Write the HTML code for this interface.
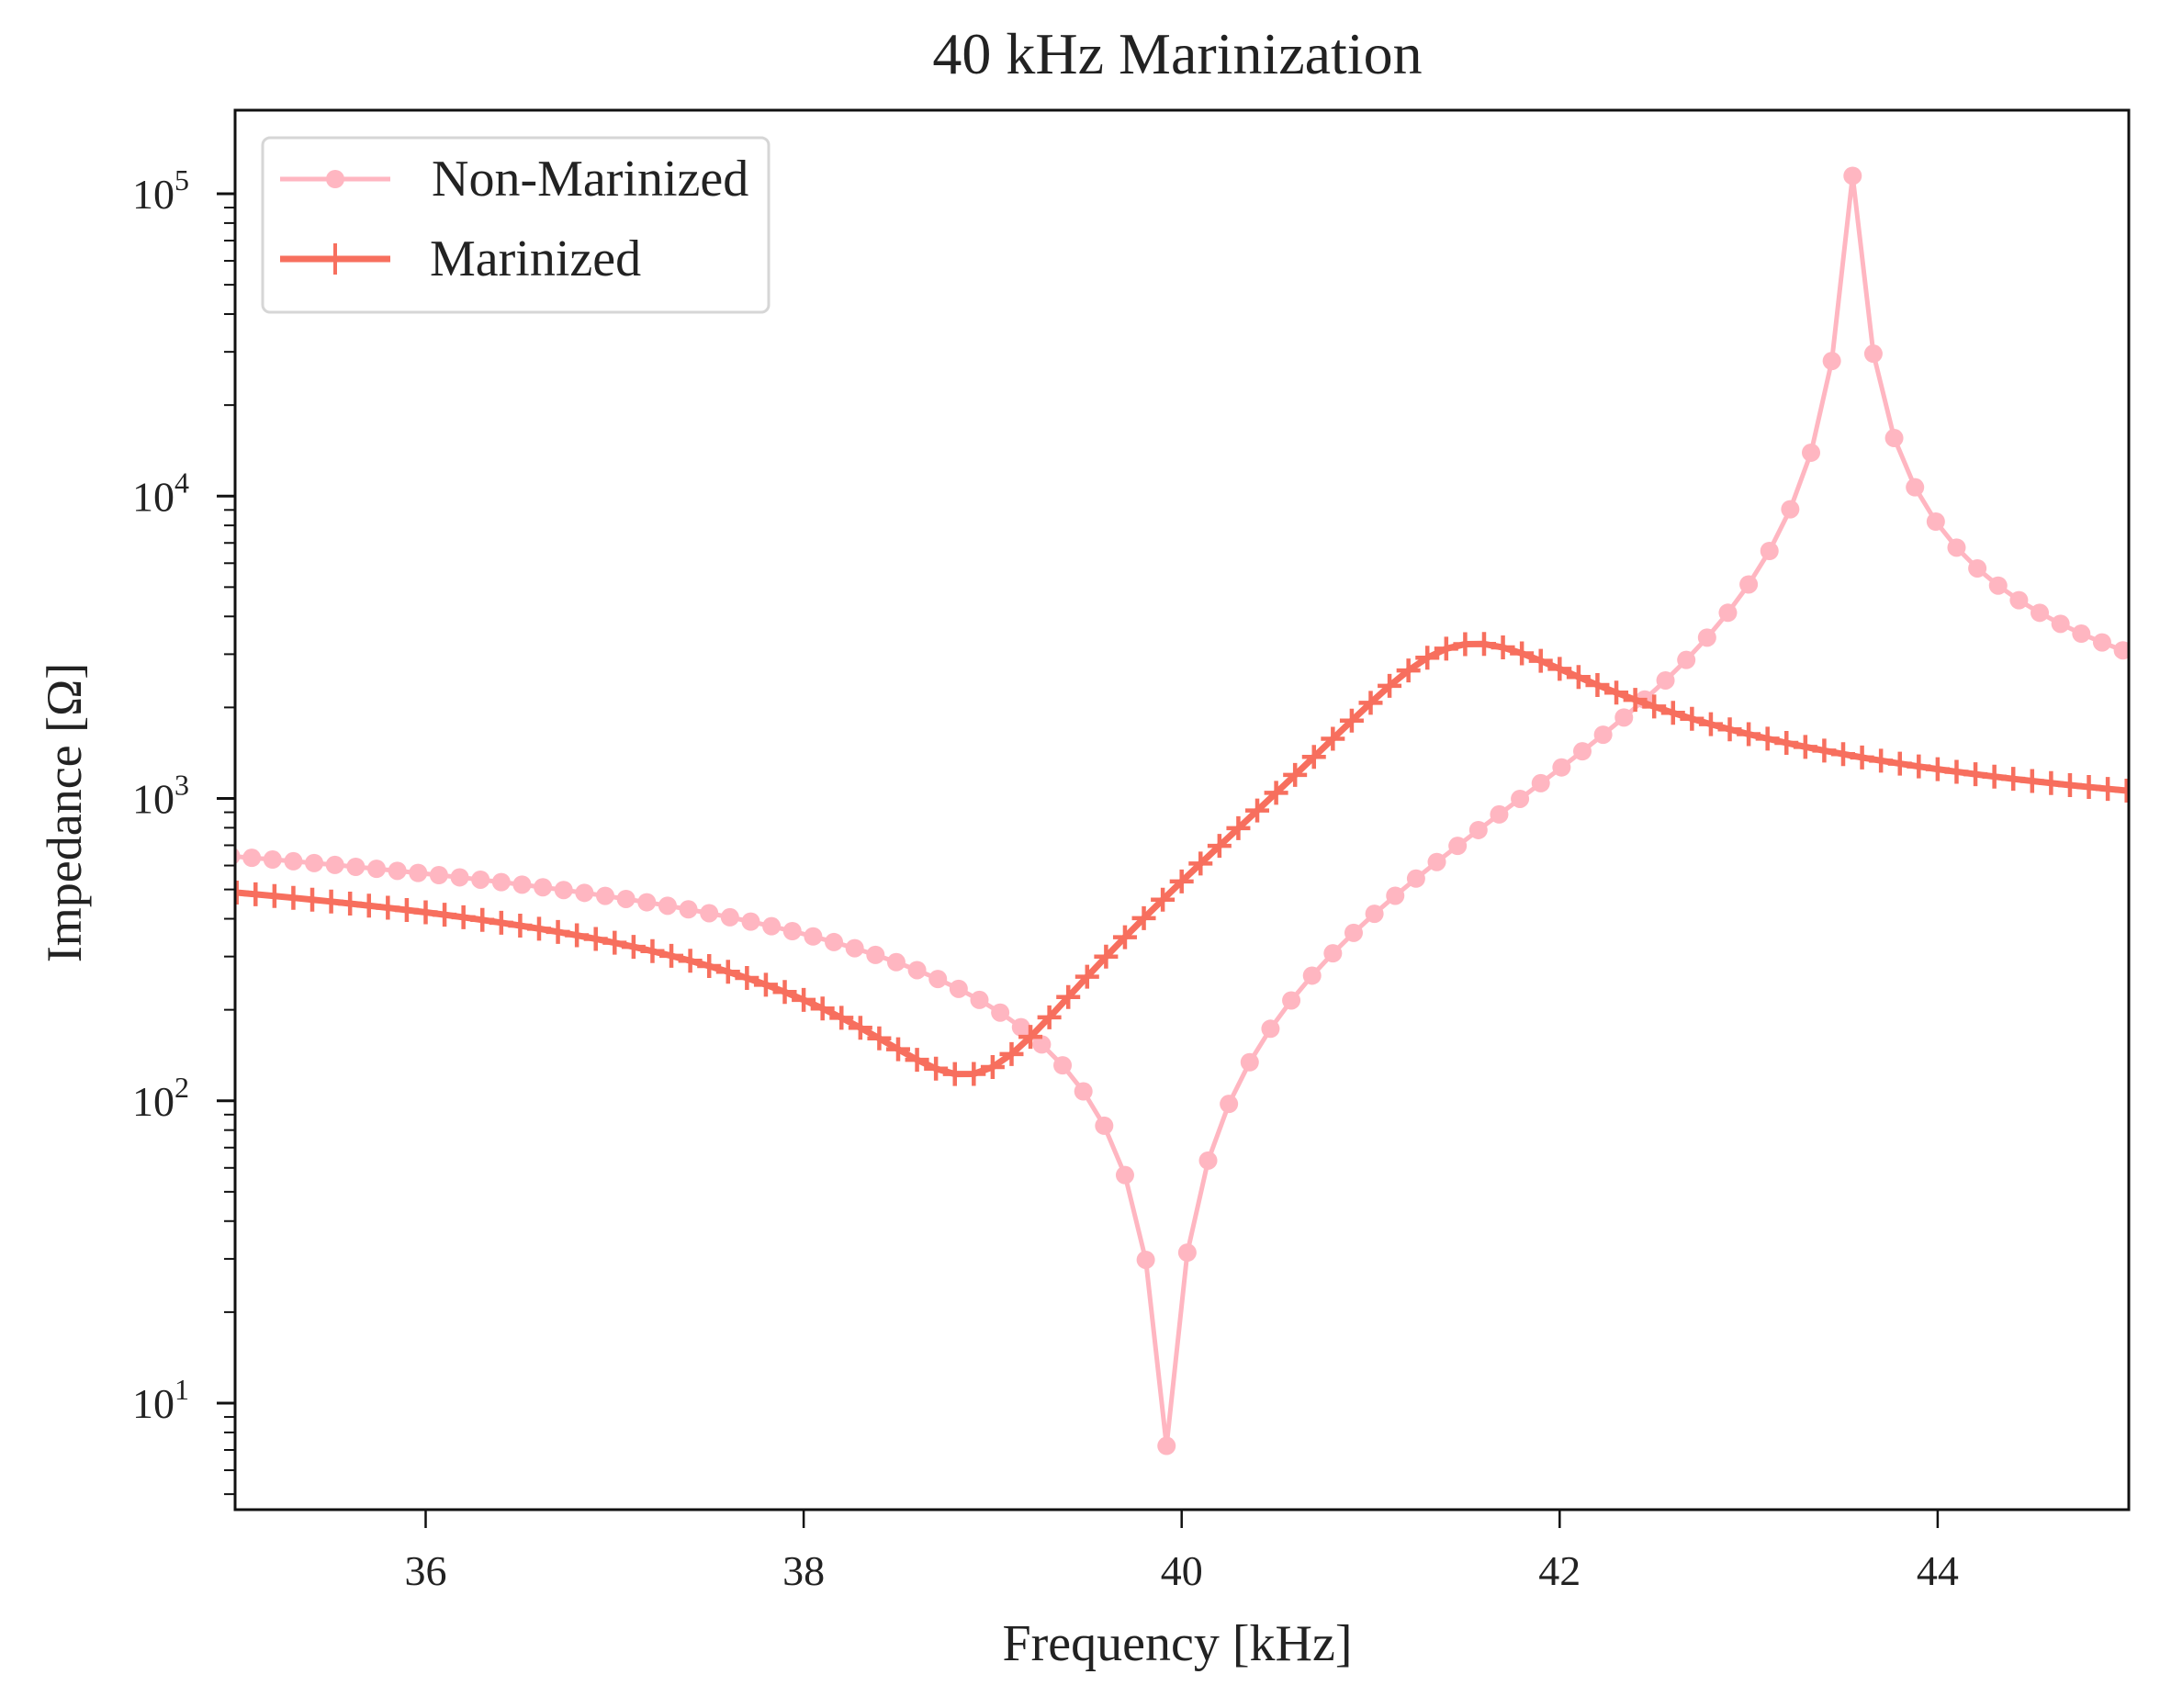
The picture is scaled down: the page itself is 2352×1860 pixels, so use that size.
<!DOCTYPE html>
<html><head><meta charset="utf-8"><style>
html,body{margin:0;padding:0;background:#fff;}
svg text{font-family:"Liberation Serif",serif;fill:#222;}
</style></head><body>
<svg id="s" width="2352" height="1855" viewBox="0 0 2352 1855" xmlns="http://www.w3.org/2000/svg">
<defs><clipPath id="c"><rect x="256" y="120" width="2062" height="1524"/></clipPath></defs>
<text x="1282" y="80" font-size="64" text-anchor="middle">40 kHz Marinization</text>
<g id="g"></g>
<rect x="256" y="120" width="2062" height="1524" fill="none" stroke="#111" stroke-width="3"/>
<rect x="286" y="150" width="551" height="190" rx="8" fill="#fff" fill-opacity="0.85" stroke="#d6d6d6" stroke-width="3"/>
<line x1="305" y1="195" x2="425" y2="195" stroke="#ffb6c1" stroke-width="5"/>
<circle cx="365" cy="195" r="10" fill="#ffb6c1"/>
<line x1="305" y1="282" x2="425" y2="282" stroke="#f76f5e" stroke-width="7"/>
<line x1="365" y1="265" x2="365" y2="299" stroke="#f76f5e" stroke-width="4"/>
<text x="470" y="213" font-size="56">Non-Marinized</text>
<text x="468" y="300" font-size="56">Marinized</text>
<text x="1282" y="1808" font-size="56" text-anchor="middle">Frequency [kHz]</text>
<text transform="translate(88,885) rotate(-90)" font-size="54" text-anchor="middle">Impedance [Ω]</text>
</svg>
<script>
const NS="http://www.w3.org/2000/svg",g=document.getElementById('g');
const X=f=>257.7+(f-35)*205.8, Y=v=>211+(5-Math.log10(v))*329.25;
function el(t,a,p){const e=document.createElementNS(NS,t);for(const k in a)e.setAttribute(k,a[k]);(p||g).appendChild(e);return e;}
function txt(x,y,s,sz,anch,p){const e=el('text',{x,y,'font-size':sz,'text-anchor':anch},p);e.textContent=s;return e;}
[36,38,40,42,44].forEach(f=>{el('line',{x1:X(f),y1:1644,x2:X(f),y2:1664,stroke:'#111','stroke-width':2.5});txt(X(f),1726,String(f),46,'middle');});
for(let d=0;d<=5;d++){for(let m=1;m<10;m++){const v=m*Math.pow(10,d),y=Y(v);if(y<120||y>1644)continue;
 el('line',{x1:256,y1:y,x2:m==1?236:244,y2:y,stroke:'#111','stroke-width':m==1?3:2});
 if(m==1){const t=el('text',{x:206,y:y+16,'font-size':46,'text-anchor':'end'});t.textContent='10';const s=el('tspan',{'font-size':32,dy:-20},t);s.textContent=String(d);}}}
function Z(f,K,fs,fp,Qs,Qp){const a=fs*fs-f*f,b=f*fs/Qs,c=fp*fp-f*f,d=f*fp/Qp;return K/f*Math.hypot(a,b)/Math.hypot(c,d);}
const cg=el('g',{'clip-path':'url(#c)'});
let pts=[];for(let i=-46;i<=50;i++){const f=39.92+i*0.11;pts.push([X(f),Y(Z(f,40950,39.92,43.55,747,763))]);}
el('polyline',{points:pts.map(p=>p.join(',')).join(' '),fill:'none',stroke:'#ffb6c1','stroke-width':5,'stroke-linejoin':'round'},cg);
pts.forEach(p=>el('circle',{cx:p[0],cy:p[1],r:10,fill:'#ffb6c1'},cg));
let q=[];for(let i=-40;i<=62;i++){const f=38.9+i*0.1;q.push([X(f),Y(Z(f,29000,38.92,41.45,44,38))]);}
el('polyline',{points:q.map(p=>p.join(',')).join(' '),fill:'none',stroke:'#f76f5e','stroke-width':7,'stroke-linejoin':'round'},cg);
let d='';q.forEach(p=>{d+=`M${p[0]-13},${p[1]}h26M${p[0]},${p[1]-13}v26`;});
el('path',{d,stroke:'#f76f5e','stroke-width':4.5,fill:'none'},cg);
</script>
</body></html>
